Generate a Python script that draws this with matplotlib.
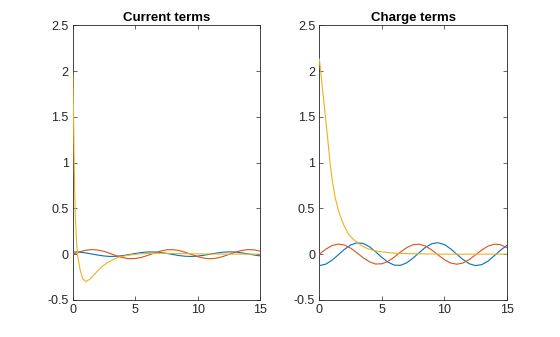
import numpy as np
import matplotlib
matplotlib.use('Agg')
from matplotlib import pyplot as plt

plt.rcParams['font.family'] = ['Liberation Sans', 'DejaVu Sans']

# common time grid for the oscillating terms
t = np.arange(0, 15.01, 0.5)

# current terms
cur_blue = [0.025, 0.022, 0.014, 0.002, -0.010, -0.020, -0.025, -0.023, -0.016, -0.005,
            0.007, 0.018, 0.024, 0.024, 0.019, 0.009, -0.004, -0.015, -0.023, -0.025,
            -0.021, -0.012, 0.000, 0.012, 0.021, 0.025, 0.023, 0.015, 0.003, -0.009, -0.019]
cur_red = [0.000, 0.024, 0.042, 0.050, 0.045, 0.030, 0.007, -0.018, -0.038, -0.049,
           -0.048, -0.035, -0.014, 0.011, 0.033, 0.047, 0.049, 0.040, 0.021, -0.004,
           -0.027, -0.044, -0.050, -0.044, -0.027, -0.003, 0.021, 0.040, 0.050, 0.047, 0.033]
t_cur_y = [0, 0.05, 0.1, 0.15, 0.2, 0.3, 0.4, 0.6, 0.8, 1.05, 1.4, 1.8, 2.3, 2.8,
           3.6, 4.5, 5.5, 7, 9, 12, 15]
cur_yellow = [1.97, 1.60, 1.10, 0.70, 0.42, 0.12, -0.03, -0.18, -0.27, -0.30, -0.27,
              -0.21, -0.14, -0.09, -0.035, -0.01, 0.005, 0.01, 0.005, 0.0, 0.0]

# charge terms
chg_blue = [-0.125, -0.110, -0.068, -0.009, 0.052, 0.100, 0.124, 0.117, 0.082, 0.026,
            -0.035, -0.089, -0.120, -0.122, -0.094, -0.043, 0.018, 0.076, 0.114, 0.125,
            0.105, 0.059, -0.001, -0.059, -0.105, -0.125, -0.114, -0.076, -0.017, 0.043, 0.095]
chg_red = [0.000, 0.053, 0.093, 0.110, 0.100, 0.066, 0.016, -0.039, -0.083, -0.108,
           -0.105, -0.078, -0.031, 0.024, 0.072, 0.103, 0.109, 0.088, 0.045, -0.008,
           -0.060, -0.097, -0.110, -0.096, -0.059, -0.007, 0.046, 0.088, 0.109, 0.103, 0.071]
t_chg_y = [0, 0.35, 0.6, 0.86, 1.05, 1.26, 1.5, 1.79, 2.05, 2.32, 2.65, 3.0, 3.4,
           3.9, 4.5, 5.0, 6.0, 8.0, 10, 12, 15]
chg_yellow = [2.13, 1.68, 1.35, 0.99, 0.79, 0.62, 0.49, 0.37, 0.29, 0.22, 0.17, 0.13,
              0.09, 0.058, 0.035, 0.025, 0.01, 0.003, 0.0, 0.0, 0.0]

titles = ['Current terms', 'Charge terms']
xticks = [0, 5, 10, 15]
yticks = [-0.5, 0, 0.5, 1, 1.5, 2, 2.5]
ytick_labels = ['-0.5', '0', '0.5', '1', '1.5', '2', '2.5']

c_blue = '#0072BD'
c_red = '#D95319'
c_yel = '#EDB120'
axc = '#262626'

fig = plt.figure(figsize=(5.6, 3.37), dpi=100)
ax1 = fig.add_axes([0.13, 0.11, 0.3347, 0.815])
ax2 = fig.add_axes([0.5703, 0.11, 0.3347, 0.815])

# lines drawn above the box like matlab does
ax1.plot(t, cur_blue, color=c_blue, lw=0.8, zorder=3)
ax1.plot(t, cur_red, color=c_red, lw=0.8, zorder=3)
ax1.plot(t_cur_y, cur_yellow, color=c_yel, lw=0.8, zorder=3)

ax2.plot(t, chg_blue, color=c_blue, lw=0.8, zorder=3)
ax2.plot(t, chg_red, color=c_red, lw=0.8, zorder=3)
ax2.plot(t_chg_y, chg_yellow, color=c_yel, lw=0.8, zorder=3)

for ax, title in zip([ax1, ax2], titles):
    ax.set_xlim(0, 15)
    ax.set_ylim(-0.5, 2.5)
    ax.set_xticks(xticks)
    ax.set_yticks(yticks)
    ax.set_yticklabels(ytick_labels)
    ax.set_title(title, fontsize=9.5, fontweight='bold', color='black', pad=3)
    ax.tick_params(direction='in', length=3, width=0.5, colors=axc, labelsize=9,
                   top=True, right=True, pad=3)
    for s in ax.spines.values():
        s.set_linewidth(0.6)
        s.set_color(axc)

fig.savefig('out.png', dpi=100)
